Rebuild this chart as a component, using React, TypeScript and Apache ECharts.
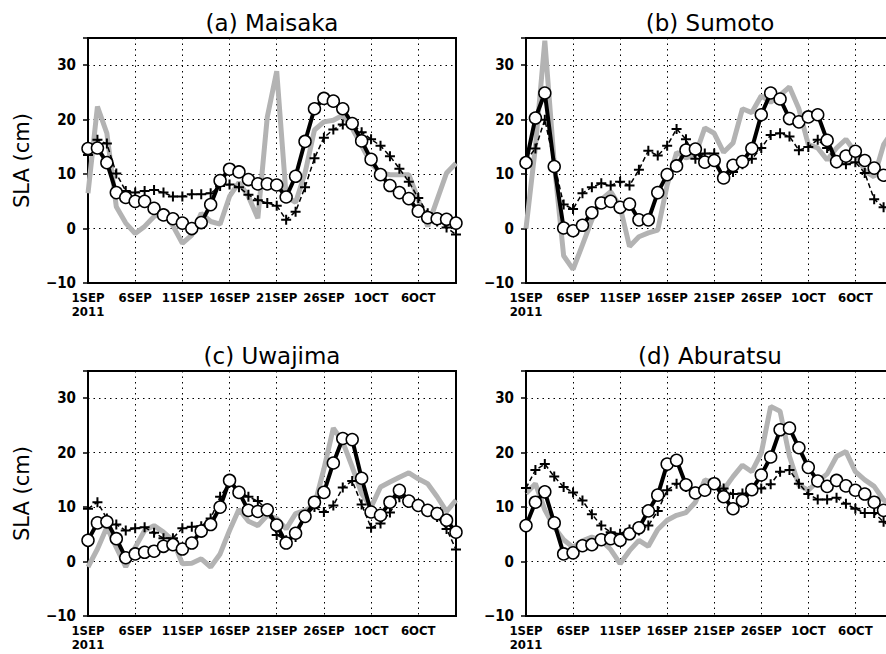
import React, { useEffect, useRef } from 'react';
import * as echarts from 'echarts';

// ---- data (day index 0 = 1 SEP 2011) ----
const tickDays = [0, 5, 10, 15, 20, 25, 30, 35];
const tickLabels = ['1SEP\n2011', '6SEP', '11SEP', '16SEP', '21SEP', '26SEP', '1OCT', '6OCT'];
const yTicks = [-10, 0, 10, 20, 30];

const titles = ['(a) Maisaka', '(b) Sumoto', '(c) Uwajima', '(d) Aburatsu'];

const maisakaObs = [6.5, 22.4, 17.5, 4.0, 1.0, -0.9, 0.4, 2.2, 3.0, 0.5, -2.7, -1.2, 2.8, 1.3, 0.8, 5.9, 8.5, 5.9, 1.9, 20.5, 28.9, 5.9, 4.8, 10.2, 18.1, 19.6, 19.9, 20.8, 18.4, 15.2, 12.0, 10.2, 9.9, 9.9, 9.9, 5.3, 0.4, 5.3, 10.2, 12.0];
const maisakaModel = [14.7, 14.8, 12.1, 6.6, 5.7, 5.0, 5.0, 3.7, 2.5, 1.8, 1.0, 0.0, 1.1, 4.4, 8.8, 10.9, 10.4, 9.0, 8.2, 8.2, 8.0, 5.8, 9.6, 16.0, 22.0, 23.9, 23.4, 22.0, 19.3, 16.1, 12.7, 9.9, 7.9, 6.6, 5.5, 3.2, 2.0, 1.8, 1.7, 1.0];
const maisakaPlus = [13.5, 16.3, 15.6, 10.1, 6.9, 6.6, 6.9, 7.1, 6.6, 5.9, 5.9, 6.3, 6.3, 6.5, 7.8, 8.1, 7.6, 6.2, 5.2, 4.7, 4.2, 1.6, 3.1, 7.6, 12.9, 16.7, 18.2, 19.1, 19.2, 17.7, 16.4, 15.2, 13.3, 11.0, 8.6, 5.6, 2.8, 1.3, 0.2, -1.1];

const sumotoObs = [0, 15, 34.5, 12, -5, -7.5, -3, 1.6, 5.3, 6.8, 4.0, -3.3, -1.5, -0.8, -0.3, 8, 14, 13, 13.5, 18.5, 17.5, 14.0, 15.7, 22, 21.3, 24.4, 23.2, 24.5, 26, 22, 15.4, 14.8, 12.6, 14.8, 16.4, 14.0, 10.6, 9.5, 15.4, 18];
const sumotoModel = [12.1, 20.3, 24.9, 11.4, 0.1, -0.4, 0.6, 2.9, 4.7, 5.0, 3.9, 4.5, 1.6, 1.6, 6.6, 9.9, 11.5, 14.4, 14.6, 12.2, 12.5, 9.3, 11.6, 12.3, 14.7, 20.9, 24.9, 23.8, 20.2, 19.6, 20.5, 20.9, 16.2, 12.3, 13.3, 14.2, 12.5, 11.1, 9.8, 9.5];
const sumotoPlus = [12.5, 14.7, 20.0, 12.0, 4.4, 3.6, 6.5, 7.6, 8.3, 7.9, 8.6, 7.9, 10.8, 14.3, 13.4, 15.2, 18.3, 16.4, 12.8, 13.8, 13.8, 9.2, 10.4, 11.8, 12.8, 14.8, 17.2, 17.5, 16.9, 14.4, 15.0, 16.3, 14.8, 12.0, 11.8, 12.2, 10.2, 5.4, 3.9, 3.0];

const uwajimaObs = [-1.0, 2.3, 6.3, 2.6, -1.0, 2.6, 5.7, 6.6, 5.4, 3.9, -0.4, -0.3, 0.5, -1.0, 1.4, 5.7, 9.6, 7.4, 6.6, 8.5, 7.9, 6.0, 8.8, 9.4, 10.3, 17.0, 24.5, 22.0, 17.4, 12.5, 10.0, 13.7, 14.6, 15.5, 16.3, 15.2, 14.3, 11.9, 9.2, 11.3];
const uwajimaModel = [3.9, 7.1, 7.3, 4.2, 0.7, 1.4, 1.7, 1.9, 2.8, 3.1, 2.3, 3.4, 5.6, 6.8, 10.0, 14.9, 12.7, 9.4, 9.2, 9.5, 6.7, 3.4, 5.2, 8.3, 10.9, 12.7, 18.1, 22.6, 22.4, 15.3, 9.1, 8.5, 10.9, 13.1, 11.1, 10.3, 9.4, 8.8, 7.6, 5.4];
const uwajimaPlus = [9.7, 10.9, 7.9, 6.8, 5.7, 6.1, 6.3, 5.3, 4.3, 4.3, 6.1, 6.4, 6.5, 7.9, 11.9, 14.5, 12.8, 11.9, 11.1, 9.5, 4.9, 3.9, 4.5, 8.2, 10.0, 9.1, 10.3, 13.6, 14.8, 10.5, 6.2, 7.0, 9.0, 11.8, 11.2, 10.0, 9.4, 8.2, 6.0, 2.2];

const aburatsuObs = [12.5, 14.3, 9.5, 6.3, 4.0, 2.6, 3.8, 4.5, 3.9, 2.2, -0.4, 2.0, 3.9, 2.8, 5.9, 7.6, 8.5, 9.0, 10.9, 15.0, 14.4, 13.2, 15.6, 17.7, 16.5, 19.9, 28.5, 27.6, 19.3, 14.0, 13.1, 14.7, 16.1, 19.3, 20.2, 16.5, 15.0, 13.8, 11.3, 10.5];
const aburatsuModel = [6.6, 10.9, 12.8, 7.1, 1.4, 1.6, 2.9, 3.1, 4.0, 4.2, 3.9, 5.1, 6.2, 9.3, 12.2, 17.9, 18.6, 14.1, 12.6, 13.1, 14.3, 11.9, 9.7, 11.2, 13.2, 15.9, 19.2, 24.2, 24.5, 20.9, 17.3, 14.8, 13.8, 14.9, 13.9, 13.1, 12.4, 10.9, 9.4, 8.0];
const aburatsuPlus = [13.5, 16.8, 17.9, 15.6, 13.7, 12.7, 11.2, 8.7, 6.6, 5.4, 5.1, 5.9, 5.7, 6.6, 9.3, 13.1, 14.3, 13.7, 12.8, 13.1, 14.6, 13.4, 12.4, 12.5, 13.1, 13.4, 14.2, 16.5, 16.8, 14.3, 12.4, 11.4, 11.4, 11.7, 10.6, 9.7, 8.9, 8.9, 7.3, 6.0];

const obsSets = [maisakaObs, sumotoObs, uwajimaObs, aburatsuObs];
const modelSets = [maisakaModel, sumotoModel, uwajimaModel, aburatsuModel];
const plusSets = [maisakaPlus, sumotoPlus, uwajimaPlus, aburatsuPlus];

// ---- layout / style ----
const layouts = [
  { left: 88, top: 38, width: 368, height: 245, yName: true },
  { left: 526, top: 38, width: 367, height: 245, yName: false },
  { left: 88, top: 371, width: 368, height: 245, yName: true },
  { left: 526, top: 371, width: 367, height: 245, yName: false },
];

const LABEL_FONT = "'DejaVu Sans Condensed', 'Liberation Sans Narrow', sans-serif";
const TITLE_FONT = "'DejaVu Sans', sans-serif";
const PLUS = 'path://M4,0H6V4H10V6H6V10H4V6H0V4H4Z';

const pairs = (arr: number[]) => arr.map((v, i) => [i, v]);

export default function App() {
  const ref = useRef<HTMLDivElement>(null);

  useEffect(() => {
    if (!ref.current) return;
    const chart = echarts.init(ref.current, undefined, { renderer: 'svg' });

    const dotted = { color: '#000', width: 1, type: [1.5, 4] };

    const grid = layouts.map((l) => ({
      left: l.left,
      top: l.top,
      width: l.width,
      height: l.height,
      show: true,
      borderColor: '#000',
      borderWidth: 2,
      backgroundColor: 'transparent',
      containLabel: false,
      outerBoundsMode: 'none',
    }));

    const xAxis = layouts.map((_, i) => ({
      gridIndex: i,
      type: 'value',
      min: 0,
      max: 39,
      interval: 5,
      axisLine: { show: false },
      axisTick: { show: false },
      splitLine: { show: true, lineStyle: dotted },
      axisLabel: {
        show: true,
        margin: 7,
        color: '#000',
        fontFamily: LABEL_FONT,
        fontWeight: 'bold',
        fontSize: 13,
        lineHeight: 14,
        formatter: (v: number) => {
          const k = tickDays.indexOf(v);
          return k >= 0 ? tickLabels[k] : '';
        },
      },
    }));

    const yAxis = layouts.map((_, i) => ({
      gridIndex: i,
      type: 'value',
      min: -10,
      max: 35,
      interval: 10,
      axisLine: { show: false },
      axisTick: { show: true, length: 5, lineStyle: { color: '#000', width: 1.5 } },
      splitLine: { show: true, lineStyle: dotted },
      axisLabel: {
        show: true,
        margin: 12,
        color: '#000',
        fontFamily: LABEL_FONT,
        fontWeight: 'bold',
        fontSize: 15,
        formatter: (v: number) => {
          if (yTicks.indexOf(v) < 0) return '';
          return v < 0 ? '\u2212' + Math.abs(v) : String(v);
        },
      },
    }));

    const series: any[] = [];
    layouts.forEach((_, i) => {
      series.push({
        type: 'line',
        xAxisIndex: i,
        yAxisIndex: i,
        data: pairs(obsSets[i]),
        symbol: 'none',
        lineStyle: { color: '#b3b3b3', width: 5 },
        z: 2,
      });
      series.push({
        type: 'line',
        xAxisIndex: i,
        yAxisIndex: i,
        data: pairs(plusSets[i]),
        symbol: PLUS,
        symbolSize: 10,
        itemStyle: { color: '#000' },
        lineStyle: { color: '#000', width: 1.5, type: [5, 3] },
        z: 3,
      });
      series.push({
        type: 'line',
        xAxisIndex: i,
        yAxisIndex: i,
        data: pairs(modelSets[i]),
        symbol: 'circle',
        symbolSize: 12,
        itemStyle: { color: '#fff', borderColor: '#000', borderWidth: 1.5 },
        lineStyle: { color: '#000', width: 4 },
        z: 4,
      });
    });

    const graphic: any[] = [];
    layouts.forEach((l, i) => {
      graphic.push({
        type: 'text',
        x: l.left + 368 / 2,
        y: l.top - 15,
        style: {
          text: titles[i],
          fontFamily: TITLE_FONT,
          fontSize: 23,
          fill: '#000',
          textAlign: 'center',
          textVerticalAlign: 'middle',
        },
      });
      if (l.yName) {
        graphic.push({
          type: 'text',
          x: 22,
          y: l.top + l.height / 2,
          rotation: Math.PI / 2,
          style: {
            text: 'SLA (cm)',
            fontFamily: TITLE_FONT,
            fontSize: 21,
            fill: '#000',
            textAlign: 'center',
            textVerticalAlign: 'middle',
          },
        });
      }
    });

    chart.setOption({
      animation: false,
      backgroundColor: '#fff',
      grid,
      xAxis,
      yAxis,
      series,
      graphic,
    });

    return () => chart.dispose();
  }, []);

  return (
    <div
      ref={ref}
      style={{ position: 'absolute', left: 0, top: 0, width: 886, height: 654, overflow: 'hidden' }}
    />
  );
}
